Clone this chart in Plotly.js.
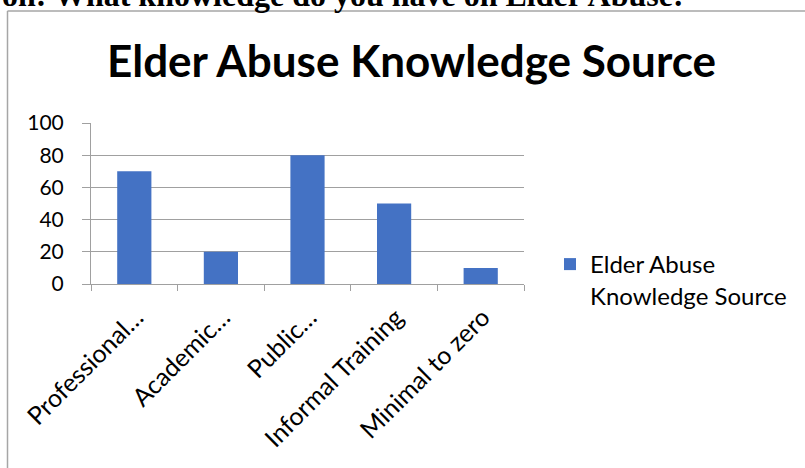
<!DOCTYPE html>
<html><head><meta charset="utf-8">
<script src="https://cdn.plot.ly/plotly-3.0.1.min.js"></script>
<style>html,body{margin:0;padding:0;background:#fff;overflow:hidden}#chart{width:805px;height:468px}</style>
</head><body><div id="chart"></div>
<script>
// ---- data ----
const categories = ["Professional…", "Academic…", "Public…", "Informal Training", "Minimal to zero"];
const values = [70, 20, 80, 50, 10];
const seriesName = "Elder Abuse<br>Knowledge Source";
const yTickVals = [0, 20, 40, 60, 80, 100];
const chartTitle = "Elder Abuse Knowledge Source";
const pageText = "on: What knowledge do you have on Elder Abuse:";

// ---- geometry helpers ----
const W = 805, H = 468;
const M = {l: 91, r: 281, t: 123, b: 184};
const PW = W - M.l - M.r, PH = H - M.t - M.b;
const px2x = p => (p - M.l) / PW;
const py2y = p => 1 - (p - M.t) / PH;

const blue = "#4472C4";
const gray = "#a0a0a0";
const sans = "Lato, 'Open Sans', sans-serif";

const trace = {
  type: "bar",
  x: categories,
  y: values,
  name: seriesName,
  marker: {color: blue},
  showlegend: true,
  hoverinfo: "x+y"
};

const layout = {
  width: W, height: H,
  margin: M,
  paper_bgcolor: "#fff",
  plot_bgcolor: "#fff",
  bargap: 0.605,
  font: {family: sans, color: "#000", size: 20},
  title: {
    text: chartTitle,
    font: {family: sans, size: 44, weight: 700, color: "#000"},
    xref: "paper", x: px2x(411.5), xanchor: "center",
    yref: "container", y: 1 - 62 / H, yanchor: "middle"
  },
  xaxis: {
    type: "category",
    tickangle: -45,
    ticks: "outside", ticklen: 6, tickcolor: gray, tickson: "boundaries",
    ticklabelshift: 2,
    ticklabelstandoff: 8,
    showline: true, linecolor: gray, linewidth: 1,
    showgrid: false, zeroline: false,
    tickfont: {family: sans, size: 25, color: "#000"},
    fixedrange: true
  },
  yaxis: {
    range: [0, 100],
    tickvals: yTickVals,
    ticks: "outside", ticklen: 8, tickcolor: gray,
    ticklabelstandoff: 14,
    showline: true, linecolor: gray, linewidth: 1,
    showgrid: true, gridcolor: gray, gridwidth: 1,
    zeroline: false,
    tickfont: {family: sans, size: 21, color: "#000"},
    fixedrange: true
  },
  legend: {
    x: px2x(550), xanchor: "left",
    y: py2y(242), yanchor: "top",
    valign: "top",
    font: {family: sans, size: 24, color: "#000"},
    bgcolor: "rgba(0,0,0,0)"
  },
  annotations: [{
    text: "<b>" + pageText + "</b>",
    xref: "paper", yref: "paper",
    x: px2x(686), xanchor: "right",
    y: py2y(-5), yanchor: "middle",
    showarrow: false,
    font: {family: "'Liberation Serif', 'Times New Roman', serif", size: 32, color: "#000"}
  }],
  shapes: [
    {type: "line", xref: "paper", yref: "paper",
     x0: px2x(7.5), x1: px2x(7.5), y0: py2y(11), y1: py2y(480),
     line: {color: "#a6a6a6", width: 1.5}},
    {type: "line", xref: "paper", yref: "paper",
     x0: px2x(7.5), x1: px2x(820), y0: py2y(11), y1: py2y(11),
     line: {color: "#a6a6a6", width: 1.5}}
  ]
};

Plotly.newPlot("chart", [trace], layout, {displayModeBar: false, staticPlot: true});
</script>
</body></html>
